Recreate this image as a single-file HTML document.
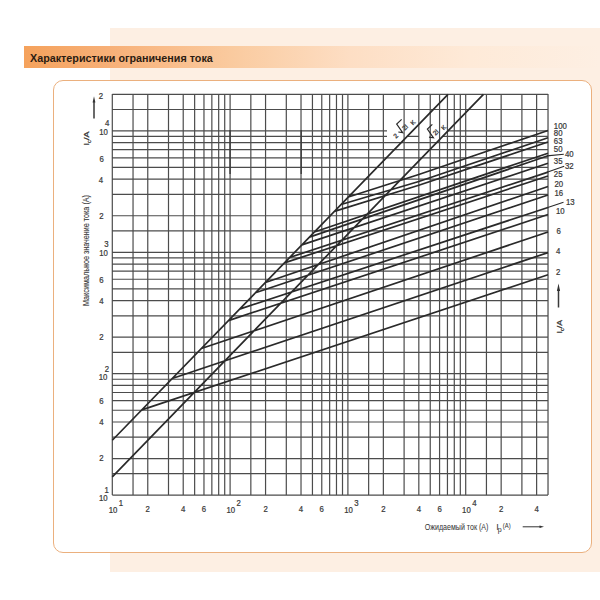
<!DOCTYPE html>
<html><head><meta charset="utf-8">
<style>
html,body{margin:0;padding:0;background:#fff;width:600px;height:600px;overflow:hidden;}
body{position:relative;font-family:"Liberation Sans",sans-serif;}
.peach{position:absolute;left:110.3px;top:28px;width:489.7px;height:543.6px;background:#fdefe3;}
.bar{position:absolute;left:24px;top:46px;width:576px;height:22px;background:linear-gradient(to right,#f5a25c 0px,#f7b078 86px,#f9bb88 136px,#facba0 211px,#fddec4 326px,#feead8 446px,#fdefe3 576px);}
.box{position:absolute;left:53px;top:80.1px;width:539.4px;height:473.3px;box-sizing:border-box;border:1.8px solid #ebb07e;border-radius:10px;background:#fff;}
svg{position:absolute;left:0;top:0;}
text{font-family:"Liberation Sans",sans-serif;fill:#383838;stroke:#383838;stroke-width:0.25px;}
</style></head><body>
<div class="peach"></div>
<div class="bar"></div>
<div class="box"></div>
<svg width="600" height="600" viewBox="0 0 600 600">
<text x="30" y="61.6" font-size="11.1" font-weight="bold" textLength="182.8" lengthAdjust="spacingAndGlyphs" style="fill:#2c1c12;stroke:none">Характеристики ограничения тока</text>
<path d="M112.30 94.00V495.10M133.04 94.00V495.10M147.76 94.00V495.10M168.50 94.00V495.10M183.22 94.00V495.10M194.64 94.00V495.10M203.97 94.00V495.10M211.85 94.00V495.10M218.68 94.00V495.10M224.71 94.00V495.10M230.10 94.00V495.10M250.84 94.00V495.10M265.56 94.00V495.10M286.30 94.00V495.10M301.02 94.00V495.10M312.44 94.00V495.10M321.77 94.00V495.10M329.65 94.00V495.10M336.48 94.00V495.10M342.51 94.00V495.10M347.90 94.00V495.10M368.64 94.00V495.10M383.36 94.00V495.10M404.10 94.00V495.10M418.82 94.00V495.10M430.24 94.00V495.10M439.57 94.00V495.10M447.45 94.00V495.10M454.28 94.00V495.10M460.31 94.00V495.10M465.70 94.00V495.10M486.44 94.00V495.10M501.16 94.00V495.10M521.90 94.00V495.10M536.62 94.00V495.10M548.04 94.00V495.10M112.30 495.10H548.00M112.30 473.72H548.00M112.30 458.55H548.00M112.30 437.18H548.00M112.30 422.01H548.00M112.30 410.25H548.00M112.30 400.63H548.00M112.30 392.51H548.00M112.30 385.46H548.00M112.30 379.25H548.00M112.30 373.70H548.00M112.30 352.32H548.00M112.30 337.15H548.00M112.30 315.78H548.00M112.30 300.61H548.00M112.30 288.85H548.00M112.30 279.23H548.00M112.30 271.11H548.00M112.30 264.06H548.00M112.30 257.85H548.00M112.30 252.30H548.00M112.30 230.92H548.00M112.30 215.75H548.00M112.30 194.38H548.00M112.30 179.21H548.00M112.30 167.45H548.00M112.30 157.83H548.00M112.30 149.71H548.00M112.30 142.66H548.00M112.30 136.45H387M407.12 136.45H418.5M442.58 136.45H548.00M112.30 130.90H387M447.97 130.90H548.00M112.30 109.52H548.00M112.30 94.35H548.00M548.00 94.00V495.10" stroke="#4c4c4c" stroke-width="1.2" fill="none"/>
<path d="M112.30 440.28L447.97 94.35M112.30 476.83L483.43 94.35M348.40 196.97L418.8 174.50L548.00 130.50M341.10 204.49L418.8 181.50L548.00 137.80M334.40 211.40L418.8 185.30L548.00 142.00M314.40 232.01L548.00 153.20M309.40 237.16L548.00 155.80M301.90 244.89L548.00 163.30M289.70 257.46L548.00 172.10M284.40 262.92L548.00 176.00M265.40 282.51L548.00 186.50M255.40 292.81L548.00 195.00M239.60 309.09L548.00 207.50M228.40 320.64L548.00 214.50M201.40 348.46L548.00 232.00M172.20 378.55L548.00 252.60M141.80 409.88L548.00 274.80" stroke="#2a2a2a" stroke-width="1.7" fill="none"/>
<path d="M547 155.9L563.8 154.3M547 172.3L564.2 166.3M547 207.8L563.5 202.2" stroke="#2a2a2a" stroke-width="1.1" fill="none"/>
<path d="M230.1 130V174M301.2 130V174" stroke="#3c3c3c" stroke-width="1.4" fill="none"/>
<text transform="translate(100.90 99.00) scale(0.83 1)" text-anchor="middle" font-size="9.4" >2</text><text transform="translate(101.70 162.20) scale(0.83 1)" text-anchor="middle" font-size="9.4" >6</text><text transform="translate(101.00 183.00) scale(0.83 1)" text-anchor="middle" font-size="9.4" >4</text><text transform="translate(101.50 219.00) scale(0.83 1)" text-anchor="middle" font-size="9.4" >2</text><text transform="translate(101.50 282.70) scale(0.83 1)" text-anchor="middle" font-size="9.4" >6</text><text transform="translate(101.50 304.00) scale(0.83 1)" text-anchor="middle" font-size="9.4" >4</text><text transform="translate(101.50 340.30) scale(0.83 1)" text-anchor="middle" font-size="9.4" >2</text><text transform="translate(101.50 403.80) scale(0.83 1)" text-anchor="middle" font-size="9.4" >6</text><text transform="translate(101.50 424.50) scale(0.83 1)" text-anchor="middle" font-size="9.4" >4</text><text transform="translate(101.50 461.00) scale(0.83 1)" text-anchor="middle" font-size="9.4" >2</text><text transform="translate(103.50 134.60) scale(0.83 1)" text-anchor="middle" font-size="9.4" >10</text><text transform="translate(107.10 126.40) scale(0.83 1)" text-anchor="middle" font-size="9.4" >4</text><text transform="translate(103.50 256.30) scale(0.83 1)" text-anchor="middle" font-size="9.4" >10</text><text transform="translate(106.50 247.00) scale(0.83 1)" text-anchor="middle" font-size="9.4" >3</text><text transform="translate(103.00 379.50) scale(0.83 1)" text-anchor="middle" font-size="9.4" >10</text><text transform="translate(107.00 371.50) scale(0.83 1)" text-anchor="middle" font-size="9.4" >2</text><text transform="translate(103.30 501.20) scale(0.83 1)" text-anchor="middle" font-size="9.4" >10</text><text transform="translate(106.70 493.30) scale(0.83 1)" text-anchor="middle" font-size="9.4" >1</text><text transform="translate(113.00 512.80) scale(0.83 1)" text-anchor="middle" font-size="9.4" >10</text><text transform="translate(120.90 505.60) scale(0.83 1)" text-anchor="middle" font-size="9.4" >1</text><text transform="translate(147.76 512.20) scale(0.83 1)" text-anchor="middle" font-size="9.4" >2</text><text transform="translate(183.22 512.20) scale(0.83 1)" text-anchor="middle" font-size="9.4" >4</text><text transform="translate(203.97 512.20) scale(0.83 1)" text-anchor="middle" font-size="9.4" >6</text><text transform="translate(230.80 512.80) scale(0.83 1)" text-anchor="middle" font-size="9.4" >10</text><text transform="translate(238.70 505.60) scale(0.83 1)" text-anchor="middle" font-size="9.4" >2</text><text transform="translate(265.56 512.20) scale(0.83 1)" text-anchor="middle" font-size="9.4" >2</text><text transform="translate(301.02 512.20) scale(0.83 1)" text-anchor="middle" font-size="9.4" >4</text><text transform="translate(321.77 512.20) scale(0.83 1)" text-anchor="middle" font-size="9.4" >6</text><text transform="translate(348.60 512.80) scale(0.83 1)" text-anchor="middle" font-size="9.4" >10</text><text transform="translate(356.50 505.60) scale(0.83 1)" text-anchor="middle" font-size="9.4" >3</text><text transform="translate(383.36 512.20) scale(0.83 1)" text-anchor="middle" font-size="9.4" >2</text><text transform="translate(418.82 512.20) scale(0.83 1)" text-anchor="middle" font-size="9.4" >4</text><text transform="translate(439.57 512.20) scale(0.83 1)" text-anchor="middle" font-size="9.4" >6</text><text transform="translate(466.40 512.80) scale(0.83 1)" text-anchor="middle" font-size="9.4" >10</text><text transform="translate(474.30 505.60) scale(0.83 1)" text-anchor="middle" font-size="9.4" >4</text><text transform="translate(501.16 512.20) scale(0.83 1)" text-anchor="middle" font-size="9.4" >2</text><text transform="translate(536.62 512.20) scale(0.83 1)" text-anchor="middle" font-size="9.4" >4</text><text transform="translate(553.80 128.50) scale(0.83 1)" text-anchor="start" font-size="9.4" >100</text><text transform="translate(553.80 135.50) scale(0.83 1)" text-anchor="start" font-size="9.4" >80</text><text transform="translate(553.80 143.50) scale(0.83 1)" text-anchor="start" font-size="9.4" >63</text><text transform="translate(553.80 152.00) scale(0.83 1)" text-anchor="start" font-size="9.4" >50</text><text transform="translate(565.00 156.50) scale(0.83 1)" text-anchor="start" font-size="9.4" >40</text><text transform="translate(553.80 164.00) scale(0.83 1)" text-anchor="start" font-size="9.4" >35</text><text transform="translate(565.00 168.50) scale(0.83 1)" text-anchor="start" font-size="9.4" >32</text><text transform="translate(553.80 176.50) scale(0.83 1)" text-anchor="start" font-size="9.4" >25</text><text transform="translate(554.50 186.80) scale(0.83 1)" text-anchor="start" font-size="9.4" >20</text><text transform="translate(554.50 195.80) scale(0.83 1)" text-anchor="start" font-size="9.4" >16</text><text transform="translate(566.00 204.50) scale(0.83 1)" text-anchor="start" font-size="9.4" >13</text><text transform="translate(556.00 214.00) scale(0.83 1)" text-anchor="start" font-size="9.4" >10</text><text transform="translate(556.50 233.50) scale(0.83 1)" text-anchor="start" font-size="9.4" >6</text><text transform="translate(556.00 253.50) scale(0.83 1)" text-anchor="start" font-size="9.4" >4</text><text transform="translate(556.00 275.00) scale(0.83 1)" text-anchor="start" font-size="9.4" >2</text>
<text transform="translate(89 306) rotate(-90)" font-size="8.5" style="stroke-width:0.1px" textLength="111" lengthAdjust="spacingAndGlyphs">Максимальное значение тока (A)</text>
<text transform="translate(89.2 145.4) rotate(-90)" font-size="7.8" textLength="13.8" lengthAdjust="spacingAndGlyphs">I<tspan font-size="5" dy="1.3">c</tspan><tspan dy="-1.3">/A</tspan></text>
<text transform="translate(562.2 333.4) rotate(-90)" font-size="7.8" textLength="13.5" lengthAdjust="spacingAndGlyphs">I<tspan font-size="5" dy="1.3">c</tspan><tspan dy="-1.3">/A</tspan></text>
<path d="M94 118.5V101M558.5 307.5V289" stroke="#3a3a3a" stroke-width="1.5"/>
<path d="M92.6 102.5L94 96.2L95.4 102.5ZM556.9 291L558.5 283.5L560.1 291Z" fill="#333"/>
<g transform="translate(395.7 136) rotate(-45)">
<text x="0" y="2.2" text-anchor="middle" font-size="6.5" style="stroke-width:0.3px">2</text>
<path d="M4.7 -1L7.3 2.6L9.2 -7.8L16 -7.6" stroke="#2a2a2a" stroke-width="1.2" fill="none"/>
<text x="10.1" y="2.6" font-size="6.5" style="stroke-width:0.3px">2I</text>
<text x="19.8" y="4.8" font-size="6.2" style="stroke-width:0.3px">K</text>
</g>
<g transform="translate(426.4 141.1) rotate(-45)">
<path d="M4.7 -1L7.3 2.6L9.2 -7.8L16 -7.6" stroke="#2a2a2a" stroke-width="1.2" fill="none"/>
<text x="10.1" y="2.6" font-size="6.5" style="stroke-width:0.3px">2I</text>
<text x="19.8" y="4.8" font-size="6.2" style="stroke-width:0.3px">K</text>
</g>
<text x="424.8" y="529.8" font-size="8.5" style="stroke-width:0.05px" textLength="63.6" lengthAdjust="spacingAndGlyphs">Ожидаемый ток (A)</text>
<text x="496.2" y="530" font-size="9" style="stroke-width:0.05px">I</text><text x="497.8" y="531.8" font-size="7" style="stroke-width:0.05px">p</text>
<text x="502.8" y="528.3" font-size="6.5" style="stroke-width:0.05px" textLength="7.8" lengthAdjust="spacingAndGlyphs">(A)</text>
<path d="M522.7 526.8H541" stroke="#333" stroke-width="1"/>
<path d="M539.5 525.6L544 526.8L539.5 528Z" fill="#333"/>
</svg>
</body></html>
